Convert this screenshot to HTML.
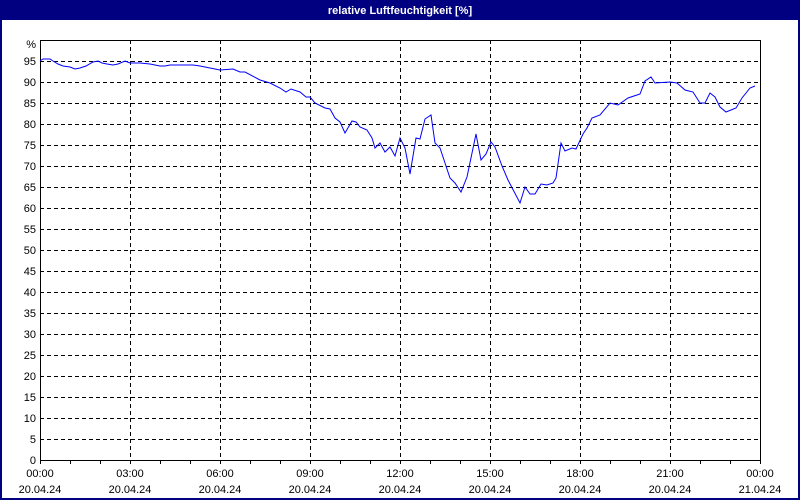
<!DOCTYPE html>
<html><head><meta charset="utf-8"><style>
html,body{margin:0;padding:0;background:#fff;}
svg{display:block;}
text{font-family:"Liberation Sans",sans-serif;font-size:11px;fill:#000;}
</style></head><body>
<svg width="800" height="500" viewBox="0 0 800 500" xmlns="http://www.w3.org/2000/svg">
<rect x="0" y="0" width="800" height="500" fill="#fff"/>
<rect x="1" y="1" width="798" height="498" fill="none" stroke="#000080" stroke-width="2"/>
<rect x="0" y="0" width="800" height="20" fill="#000080"/>
<text x="400" y="14" text-anchor="middle" style="fill:#fff;font-weight:bold;font-size:11px">relative Luftfeuchtigkeit [%]</text>
<g stroke="#000" stroke-width="1" stroke-dasharray="4,3" shape-rendering="crispEdges">
<path d="M40 61.5H760M40 82.5H760M40 103.5H760M40 124.5H760M40 145.5H760M40 166.5H760M40 187.5H760M40 208.5H760M40 229.5H760M40 250.5H760M40 271.5H760M40 292.5H760M40 313.5H760M40 334.5H760M40 355.5H760M40 376.5H760M40 397.5H760M40 418.5H760M40 439.5H760"/>
<path d="M130.5 40V460M220.5 40V460M310.5 40V460M400.5 40V460M490.5 40V460M580.5 40V460M670.5 40V460"/>
</g>
<g stroke="#000" stroke-width="1" shape-rendering="crispEdges" fill="none">
<rect x="40.5" y="40.5" width="720" height="420"/>
<path d="M40.5 460V464M70.5 460V464M100.5 460V464M130.5 460V464M160.5 460V464M190.5 460V464M220.5 460V464M250.5 460V464M280.5 460V464M310.5 460V464M340.5 460V464M370.5 460V464M400.5 460V464M430.5 460V464M460.5 460V464M490.5 460V464M520.5 460V464M550.5 460V464M580.5 460V464M610.5 460V464M640.5 460V464M670.5 460V464M700.5 460V464M730.5 460V464M760.5 460V464"/>
</g>
<g text-anchor="end">
<text x="36" y="48">%</text>
<text x="36" y="65">95</text><text x="36" y="86">90</text><text x="36" y="107">85</text><text x="36" y="128">80</text>
<text x="36" y="149">75</text><text x="36" y="170">70</text><text x="36" y="191">65</text><text x="36" y="212">60</text>
<text x="36" y="233">55</text><text x="36" y="254">50</text><text x="36" y="275">45</text><text x="36" y="296">40</text>
<text x="36" y="317">35</text><text x="36" y="338">30</text><text x="36" y="359">25</text><text x="36" y="380">20</text>
<text x="36" y="401">15</text><text x="36" y="422">10</text><text x="36" y="443">5</text><text x="36" y="464">0</text>
</g>
<g text-anchor="middle">
<text x="40" y="477">00:00</text><text x="130" y="477">03:00</text><text x="220" y="477">06:00</text><text x="310" y="477">09:00</text>
<text x="400" y="477">12:00</text><text x="490" y="477">15:00</text><text x="580" y="477">18:00</text><text x="670" y="477">21:00</text><text x="760" y="477">00:00</text>
<text x="40" y="493">20.04.24</text><text x="130" y="493">20.04.24</text><text x="220" y="493">20.04.24</text><text x="310" y="493">20.04.24</text>
<text x="400" y="493">20.04.24</text><text x="490" y="493">20.04.24</text><text x="580" y="493">20.04.24</text><text x="670" y="493">20.04.24</text><text x="760" y="493">21.04.24</text>
</g>
<polyline fill="none" stroke="#0000ff" stroke-width="1" points="40,61 43,59 50,59 53,61 58,64 63,66 70,67 75,69 80,68 86,66 93,62 98,61 102,63 107,64 113,65 118,64 125,61 130,63 140,63 150,64 160,66 165,66 170,65 180,65 193,65 200,66 220,70 233,69 240,72 245,72 260,80 270,83 280,88 286,92 291,89 300,92 306,97 310,97 315,103 325,108 330,109 335,118 340,122 345,133 352,121 356,122 360,127 367,130 372,138 375,148 380,143 385,152 390,147 395,156 400,138 405,148 410,174 416,138 420,139 425,119 431,115 435,143 440,148 450,178 455,183 461,192 467,177 476,134 481,160 486,154 491,142 495,147 502,166 508,180 520,203 525,187 530,194 535,194 541,184 547,185 553,183 556,178 561,143 565,151 572,148 576,149 583,134 587,128 592,118 600,115 610,103 618,105 628,98 640,94 645,81 651,77 655,83 670,82 677,83 685,90 693,92 700,103 705,103 710,93 715,97 720,107 726,112 736,108 742,98 750,88 755,86"/>
</svg>
</body></html>
